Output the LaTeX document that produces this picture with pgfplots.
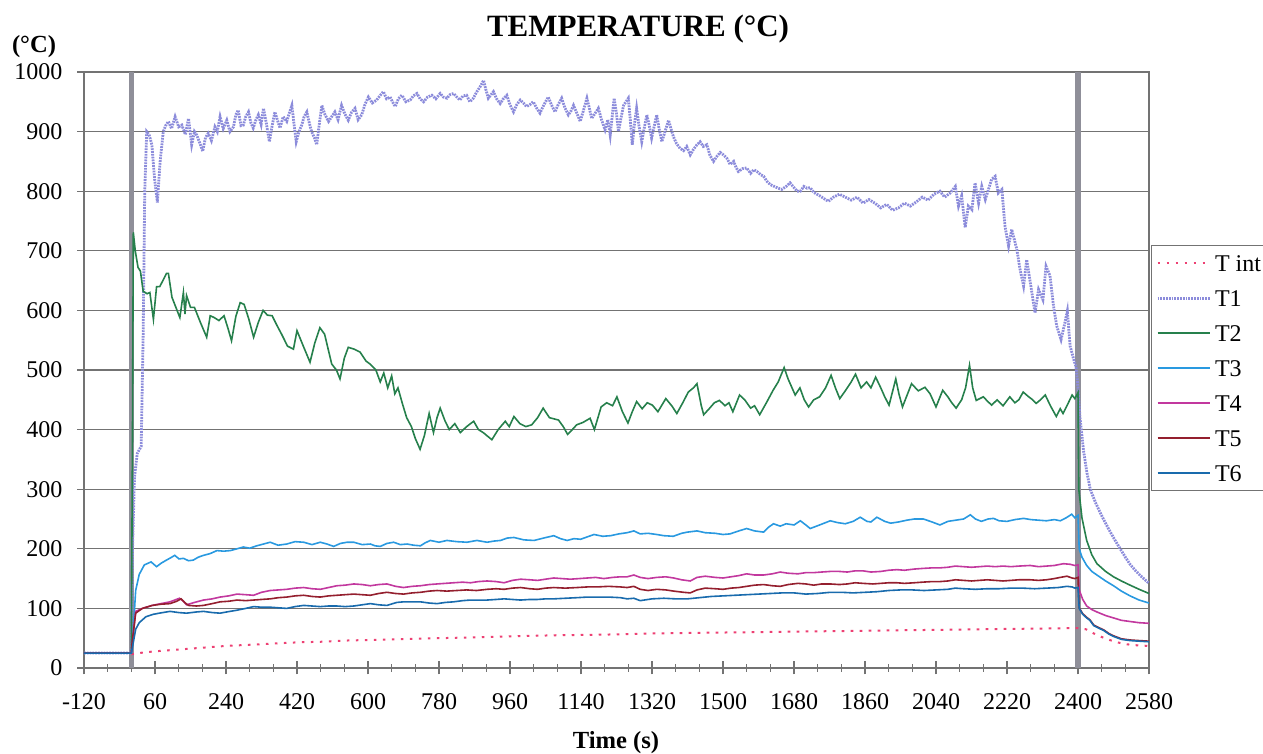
\documentclass[border=0pt]{standalone}
\usepackage{fontspec}
\setmainfont{Liberation Serif}
\usepackage{pgfplots}
\pgfplotsset{compat=1.18}
\definecolor{cTint}{rgb}{0.93,0.25,0.45}
\definecolor{cT1}{rgb}{0.55,0.55,0.86}
\definecolor{cT2}{rgb}{0.15,0.50,0.30}
\definecolor{cT3}{rgb}{0.16,0.60,0.88}
\definecolor{cT4}{rgb}{0.76,0.22,0.62}
\definecolor{cT5}{rgb}{0.58,0.12,0.18}
\definecolor{cT6}{rgb}{0.10,0.42,0.68}
\definecolor{cBar}{rgb}{0.56,0.56,0.60}
\definecolor{cGrid}{rgb}{0.45,0.45,0.45}
\begin{document}
\begin{tikzpicture}
\useasboundingbox (-42pt,-43pt) rectangle (589.5pt,334pt);
\begin{axis}[
  at={(0,0)}, anchor=south west, scale only axis,
  width=532.5pt, height=298pt,
  xmin=-120, xmax=2580, ymin=0, ymax=1000,
  xtick={-120,60,...,2580}, minor xtick={-120,-60,...,2580},
  ytick={0,100,...,1000},
  tick pos=left, tick align=center,
  major tick length=6.5pt, minor tick length=4pt,
  tick style={cGrid, line width=0.6pt},
  ymajorgrids, major grid style={cGrid, line width=0.6pt},
  axis line style={cGrid, line width=0.6pt},
  tick label style={font=\fontsize{12}{12}\selectfont},
  /pgf/number format/assume math mode=true,
  /pgf/number format/1000 sep={},
  xticklabel style={yshift=-6pt},
  yticklabel style={xshift=-4pt},
  legend style={at={(1.0015,0.7097)}, anchor=north west, draw=cGrid, line width=0.6pt,
    fill=white, font=\fontsize{12}{12}\selectfont, row sep=5pt, inner sep=2.5pt,
    nodes={inner sep=2pt, text height=8.5pt, text depth=0pt}, cells={anchor=west}},
  legend image code/.code={\draw[#1] (0pt,0pt) -- (26pt,0pt);},
]
\addplot[forget plot, cBar, line width=2.6pt] coordinates {(0,0) (0,1000)};
\addplot[forget plot, cBar, line width=2.6pt] coordinates {(2400,0) (2400,1000)};

% T int
\addplot[cTint, line width=1pt, dash pattern=on 1.3pt off 3.2pt] table[row sep=\\] {
t T\\ 0 23\\ 30 26\\ 60 28\\ 120 31\\ 180 34\\ 240 37\\ 300 39\\ 360 41\\ 420 43\\ 480 44\\ 540 46\\ 600 47\\
720 49\\ 840 51\\ 960 53\\ 1080 55\\ 1200 56\\ 1320 58\\ 1440 59\\ 1560 60\\ 1680 61\\ 1800 62\\ 1920 63\\
2040 64\\ 2160 65\\ 2280 66\\ 2400 67\\ 2420 65\\ 2440 58\\ 2460 52\\ 2480 47\\ 2500 43\\ 2520 40\\ 2550 38\\ 2580 37\\
};
\addlegendentry{T int}

% T1
\addplot[cT1, line width=1.4pt, dash pattern=on 0.9pt off 0.5pt] table[row sep=\\] {
t T\\ -120 25\\ 0 25\\ 3 200\\ 8 320\\ 15 360\\ 25 372\\ 30 560\\ 34 800\\ 39 900\\ 45 895\\ 52 878\\ 59 820\\ 66 781\\
73 850\\ 81 900\\ 87 910\\ 94 917\\ 102 905\\ 111 925\\ 120 908\\ 128 911\\ 137 895\\ 145 922\\ 153 878\\ 160 900\\
166 894\\ 174 880\\ 181 867\\ 188 890\\ 195 897\\ 203 885\\ 212 908\\ 218 900\\ 225 925\\ 233 905\\ 242 919\\ 250 900\\
259 908\\ 265 928\\ 271 936\\ 278 910\\ 284 911\\ 290 925\\ 297 933\\ 303 915\\ 309 906\\ 316 920\\ 322 928\\ 329 912\\
335 939\\ 342 915\\ 350 883\\ 357 910\\ 364 933\\ 370 920\\ 377 906\\ 385 925\\ 394 917\\ 400 930\\ 407 944\\ 412 915\\
418 883\\ 425 900\\ 432 911\\ 438 925\\ 445 933\\ 451 915\\ 457 900\\ 464 890\\ 470 878\\ 476 910\\ 483 944\\ 490 930\\
500 917\\ 508 925\\ 516 933\\ 524 920\\ 533 944\\ 541 930\\ 550 919\\ 558 932\\ 567 939\\ 575 920\\ 584 928\\ 592 945\\
601 958\\ 611 948\\ 622 953\\ 630 960\\ 639 967\\ 647 955\\ 656 958\\ 662 950\\ 669 942\\ 677 955\\ 686 961\\ 696 950\\
707 953\\ 715 960\\ 724 964\\ 732 955\\ 741 950\\ 751 958\\ 762 961\\ 772 955\\ 783 964\\ 791 958\\ 800 956\\ 808 962\\
817 964\\ 825 958\\ 833 953\\ 841 960\\ 850 961\\ 858 950\\ 867 956\\ 876 967\\ 884 975\\ 893 986\\ 899 970\\ 905 956\\
912 962\\ 918 967\\ 926 955\\ 935 947\\ 943 955\\ 952 961\\ 960 945\\ 969 933\\ 977 945\\ 986 953\\ 994 948\\ 1002 942\\
1010 945\\ 1019 950\\ 1027 940\\ 1036 931\\ 1046 945\\ 1057 958\\ 1065 945\\ 1074 933\\ 1082 945\\ 1091 956\\ 1099 940\\
1108 928\\ 1115 935\\ 1121 944\\ 1130 930\\ 1138 917\\ 1146 935\\ 1155 956\\ 1161 940\\ 1167 922\\ 1175 930\\ 1184 939\\
1192 920\\ 1201 903\\ 1208 920\\ 1214 894\\ 1219 925\\ 1224 956\\ 1230 930\\ 1235 900\\ 1242 925\\ 1248 944\\ 1254 950\\
1260 956\\ 1265 920\\ 1270 878\\ 1275 910\\ 1281 939\\ 1287 910\\ 1294 883\\ 1300 905\\ 1307 928\\ 1313 910\\ 1319 889\\
1326 910\\ 1332 928\\ 1338 905\\ 1345 883\\ 1353 900\\ 1362 919\\ 1368 905\\ 1374 892\\ 1382 880\\ 1391 872\\ 1400 868\\
1408 875\\ 1417 861\\ 1425 870\\ 1434 878\\ 1442 883\\ 1450 875\\ 1459 878\\ 1467 860\\ 1476 850\\ 1484 858\\ 1493 865\\
1501 861\\ 1510 855\\ 1518 845\\ 1527 850\\ 1533 840\\ 1539 833\\ 1550 838\\ 1560 839\\ 1570 830\\ 1578 836\\ 1586 833\\
1595 828\\ 1603 825\\ 1612 816\\ 1620 811\\ 1630 808\\ 1640 805\\ 1649 803\\ 1660 808\\ 1670 814\\ 1680 806\\ 1688 800\\
1696 800\\ 1705 808\\ 1713 805\\ 1721 806\\ 1730 798\\ 1738 795\\ 1746 792\\ 1755 788\\ 1767 783\\ 1780 790\\ 1795 795\\
1810 790\\ 1825 785\\ 1840 790\\ 1855 780\\ 1870 786\\ 1885 780\\ 1900 772\\ 1915 778\\ 1930 768\\ 1945 772\\ 1960 780\\
1975 775\\ 1990 782\\ 2005 790\\ 2020 785\\ 2035 795\\ 2050 800\\ 2062 790\\ 2076 797\\ 2089 808\\ 2097 775\\ 2105 792\\
2114 739\\ 2122 775\\ 2131 769\\ 2139 814\\ 2148 780\\ 2156 808\\ 2165 786\\ 2173 803\\ 2181 820\\ 2190 825\\ 2198 797\\
2207 803\\ 2215 741\\ 2224 708\\ 2232 736\\ 2245 702\\ 2253 669\\ 2262 641\\ 2270 685\\ 2283 630\\ 2291 596\\ 2300 635\\
2311 618\\ 2319 674\\ 2329 658\\ 2338 607\\ 2346 574\\ 2357 551\\ 2365 574\\ 2373 599\\ 2380 540\\ 2389 518\\ 2395 505\\
2400 470\\ 2405 420\\ 2414 365\\ 2422 330\\ 2431 300\\ 2444 278\\ 2456 261\\ 2469 244\\ 2482 228\\ 2495 213\\ 2507 200\\
2520 186\\ 2532 174\\ 2545 164\\ 2558 155\\ 2570 148\\ 2580 142\\
};
\addlegendentry{T1}

% T2
\addplot[cT2, line width=0.8pt] table[row sep=\\] {
t T\\ -120 25\\ 0 25\\ 3 400\\ 5 731\\ 10 700\\ 17 672\\ 23 666\\ 30 632\\ 40 628\\ 47 630\\ 56 585\\ 64 640\\ 72 640\\
80 650\\ 89 662\\ 94 662\\ 103 622\\ 113 605\\ 123 588\\ 132 630\\ 136 594\\ 140 625\\ 150 605\\ 160 605\\ 175 580\\
191 555\\ 200 591\\ 210 588\\ 222 583\\ 235 591\\ 245 570\\ 254 549\\ 265 590\\ 276 613\\ 286 610\\ 298 585\\ 310 555\\
322 580\\ 334 600\\ 345 592\\ 357 591\\ 369 575\\ 381 560\\ 396 540\\ 411 535\\ 420 566\\ 436 540\\ 453 513\\ 465 545\\
478 571\\ 490 560\\ 508 510\\ 520 500\\ 529 485\\ 540 520\\ 550 538\\ 565 535\\ 580 530\\ 595 515\\ 605 510\\ 620 500\\
631 480\\ 640 495\\ 650 470\\ 660 490\\ 668 460\\ 676 470\\ 687 444\\ 698 420\\ 710 405\\ 720 385\\ 732 367\\ 743 390\\
755 427\\ 766 395\\ 775 420\\ 783 436\\ 795 415\\ 806 400\\ 820 410\\ 834 395\\ 850 405\\ 868 414\\ 880 400\\ 892 395\\
914 383\\ 930 400\\ 948 414\\ 958 405\\ 970 422\\ 985 410\\ 1000 405\\ 1015 408\\ 1030 420\\ 1044 436\\ 1060 420\\
1083 416\\ 1095 405\\ 1106 392\\ 1118 400\\ 1129 408\\ 1145 412\\ 1163 419\\ 1174 400\\ 1191 438\\ 1205 445\\ 1220 440\\
1231 455\\ 1245 430\\ 1259 411\\ 1270 430\\ 1281 447\\ 1295 435\\ 1308 445\\ 1321 441\\ 1335 430\\ 1355 452\\ 1370 440\\
1383 427\\ 1398 445\\ 1412 463\\ 1425 470\\ 1434 477\\ 1445 440\\ 1451 425\\ 1465 435\\ 1478 445\\ 1491 449\\ 1505 440\\
1515 445\\ 1525 430\\ 1542 458\\ 1555 450\\ 1570 436\\ 1580 440\\ 1593 425\\ 1610 445\\ 1627 466\\ 1640 480\\ 1655 504\\
1665 485\\ 1675 470\\ 1683 458\\ 1695 470\\ 1706 450\\ 1717 438\\ 1730 450\\ 1745 455\\ 1760 470\\ 1774 491\\ 1785 470\\
1796 452\\ 1810 465\\ 1825 480\\ 1836 493\\ 1850 470\\ 1864 480\\ 1875 470\\ 1887 488\\ 1900 470\\ 1910 455\\ 1921 441\\
1938 485\\ 1946 460\\ 1955 438\\ 1965 455\\ 1978 477\\ 1995 465\\ 2012 471\\ 2025 460\\ 2040 438\\ 2057 466\\ 2070 455\\
2080 445\\ 2091 436\\ 2105 450\\ 2115 470\\ 2125 508\\ 2133 470\\ 2142 449\\ 2160 455\\ 2170 448\\ 2181 441\\ 2195 450\\
2210 440\\ 2227 455\\ 2240 445\\ 2250 450\\ 2261 463\\ 2275 455\\ 2285 450\\ 2294 444\\ 2305 450\\ 2317 458\\ 2330 440\\
2345 422\\ 2355 435\\ 2362 427\\ 2372 440\\ 2385 458\\ 2392 452\\ 2400 462\\ 2402 300\\ 2410 252\\ 2422 214\\ 2435 190\\
2448 175\\ 2470 162\\ 2490 153\\ 2510 146\\ 2532 139\\ 2555 132\\ 2580 125\\
};
\addlegendentry{T2}

% T3
\addplot[cT3, line width=0.8pt] table[row sep=\\] {
t T\\ -120 25\\ 0 25\\ 2 32\\ 11 130\\ 20 157\\ 33 173\\ 50 178\\ 64 170\\ 76 176\\ 89 181\\ 100 185\\ 110 189\\ 121 183\\
132 184\\ 145 180\\ 157 181\\ 170 186\\ 183 189\\ 200 192\\ 217 197\\ 234 196\\ 251 197\\ 268 200\\ 284 203\\ 300 201\\
318 205\\ 335 208\\ 352 211\\ 372 206\\ 394 208\\ 415 212\\ 437 211\\ 458 207\\ 479 211\\ 496 208\\ 513 204\\ 530 209\\
547 211\\ 564 211\\ 585 207\\ 606 208\\ 618 205\\ 631 204\\ 648 209\\ 665 211\\ 682 207\\ 699 208\\ 716 206\\ 733 205\\
745 210\\ 758 214\\ 780 211\\ 800 214\\ 825 212\\ 851 211\\ 876 214\\ 902 211\\ 920 213\\ 936 214\\ 953 218\\ 970 219\\
995 215\\ 1021 214\\ 1045 218\\ 1071 222\\ 1088 217\\ 1105 214\\ 1122 217\\ 1139 216\\ 1156 220\\ 1173 224\\ 1195 221\\
1215 222\\ 1236 225\\ 1257 227\\ 1274 230\\ 1290 225\\ 1310 226\\ 1332 224\\ 1350 222\\ 1374 221\\ 1395 226\\ 1410 228\\
1434 230\\ 1455 227\\ 1480 226\\ 1500 224\\ 1518 225\\ 1540 230\\ 1560 234\\ 1580 230\\ 1603 228\\ 1615 236\\ 1628 242\\
1645 238\\ 1660 242\\ 1680 240\\ 1696 247\\ 1710 240\\ 1721 234\\ 1745 240\\ 1772 247\\ 1790 244\\ 1810 242\\ 1830 246\\
1848 253\\ 1865 246\\ 1875 245\\ 1890 253\\ 1910 246\\ 1925 243\\ 1945 245\\ 1966 248\\ 1985 250\\ 2008 250\\ 2030 245\\
2050 240\\ 2070 246\\ 2090 248\\ 2110 250\\ 2127 257\\ 2140 250\\ 2155 246\\ 2172 250\\ 2186 251\\ 2200 247\\ 2220 246\\
2240 249\\ 2262 251\\ 2280 249\\ 2300 248\\ 2320 247\\ 2340 249\\ 2355 247\\ 2370 252\\ 2384 258\\ 2392 252\\ 2400 256\\
2403 200\\ 2410 186\\ 2422 172\\ 2435 162\\ 2448 156\\ 2470 146\\ 2490 138\\ 2510 129\\ 2532 121\\ 2555 114\\ 2580 109\\
};
\addlegendentry{T3}

% T4
\addplot[cT4, line width=0.8pt] table[row sep=\\] {
t T\\ -120 25\\ 0 25\\ 2 38\\ 11 95\\ 28 100\\ 53 105\\ 75 108\\ 98 111\\ 110 114\\ 122 117\\ 132 112\\ 140 106\\ 160 110\\
183 114\\ 205 116\\ 225 119\\ 247 121\\ 268 124\\ 290 123\\ 310 122\\ 330 127\\ 352 130\\ 373 131\\ 394 132\\ 415 134\\
437 135\\ 458 133\\ 479 132\\ 500 135\\ 521 138\\ 542 139\\ 564 141\\ 585 140\\ 606 138\\ 627 140\\ 648 141\\ 670 137\\
690 135\\ 712 137\\ 733 138\\ 755 140\\ 775 141\\ 796 142\\ 817 143\\ 840 144\\ 860 143\\ 880 145\\ 902 146\\ 925 145\\
945 143\\ 966 147\\ 987 149\\ 1010 148\\ 1030 147\\ 1050 149\\ 1071 151\\ 1092 150\\ 1113 149\\ 1135 150\\ 1156 151\\
1177 152\\ 1198 150\\ 1220 152\\ 1240 153\\ 1257 153\\ 1274 156\\ 1290 152\\ 1310 150\\ 1332 152\\ 1355 153\\ 1375 151\\
1395 148\\ 1417 146\\ 1434 152\\ 1455 154\\ 1480 152\\ 1500 151\\ 1520 153\\ 1540 155\\ 1560 158\\ 1580 156\\ 1603 156\\
1625 158\\ 1645 161\\ 1665 159\\ 1690 158\\ 1710 160\\ 1730 160\\ 1750 161\\ 1772 162\\ 1795 162\\ 1815 161\\ 1835 163\\
1855 163\\ 1875 161\\ 1900 162\\ 1920 164\\ 1941 165\\ 1960 164\\ 1985 166\\ 2005 167\\ 2030 168\\ 2050 168\\ 2070 169\\
2089 171\\ 2110 170\\ 2130 169\\ 2150 170\\ 2170 171\\ 2190 170\\ 2210 171\\ 2230 170\\ 2250 171\\ 2279 172\\ 2300 170\\
2320 171\\ 2340 172\\ 2363 175\\ 2380 174\\ 2392 172\\ 2400 173\\ 2403 131\\ 2412 115\\ 2422 104\\ 2435 98\\ 2448 94\\
2470 88\\ 2490 84\\ 2510 80\\ 2532 78\\ 2555 76\\ 2580 75\\
};
\addlegendentry{T4}

% T5
\addplot[cT5, line width=0.8pt] table[row sep=\\] {
t T\\ -120 25\\ 0 25\\ 2 43\\ 11 92\\ 28 100\\ 53 105\\ 75 107\\ 98 108\\ 115 112\\ 126 116\\ 135 110\\ 145 105\\ 165 104\\
183 105\\ 205 108\\ 225 111\\ 247 112\\ 268 114\\ 290 113\\ 310 114\\ 330 115\\ 352 116\\ 373 118\\ 394 119\\ 415 121\\
437 122\\ 458 120\\ 479 119\\ 500 121\\ 521 122\\ 542 123\\ 564 124\\ 585 123\\ 606 122\\ 627 125\\ 648 127\\ 670 125\\
690 124\\ 712 126\\ 733 127\\ 755 129\\ 775 130\\ 800 129\\ 825 130\\ 850 131\\ 875 130\\ 902 132\\ 925 133\\ 945 132\\
966 134\\ 987 135\\ 1010 133\\ 1030 132\\ 1050 134\\ 1071 135\\ 1100 134\\ 1130 135\\ 1156 136\\ 1180 136\\ 1210 137\\
1240 136\\ 1257 135\\ 1274 137\\ 1290 132\\ 1310 130\\ 1332 132\\ 1355 131\\ 1375 129\\ 1400 127\\ 1417 126\\ 1434 131\\
1455 134\\ 1480 133\\ 1500 132\\ 1520 134\\ 1540 135\\ 1560 137\\ 1580 139\\ 1603 140\\ 1625 138\\ 1645 137\\ 1665 140\\
1690 142\\ 1710 141\\ 1730 139\\ 1750 141\\ 1772 141\\ 1795 140\\ 1815 141\\ 1835 143\\ 1855 142\\ 1880 141\\ 1900 142\\
1920 143\\ 1941 143\\ 1960 142\\ 1985 143\\ 2005 144\\ 2030 145\\ 2050 145\\ 2070 146\\ 2089 148\\ 2110 147\\ 2130 146\\
2150 147\\ 2170 148\\ 2190 147\\ 2210 146\\ 2230 147\\ 2250 148\\ 2279 148\\ 2300 147\\ 2320 148\\ 2340 150\\ 2355 152\\
2372 154\\ 2385 151\\ 2392 150\\ 2400 152\\ 2403 101\\ 2412 91\\ 2422 85\\ 2430 81\\ 2440 72\\ 2452 68\\ 2465 64\\
2478 58\\ 2490 54\\ 2510 49\\ 2532 47\\ 2555 46\\ 2580 45\\
};
\addlegendentry{T5}

% T6
\addplot[cT6, line width=0.8pt] table[row sep=\\] {
t T\\ -120 25\\ 0 25\\ 2 32\\ 11 65\\ 20 76\\ 37 86\\ 55 90\\ 71 92\\ 98 95\\ 120 93\\ 140 92\\ 165 94\\ 183 95\\ 205 93\\
225 92\\ 250 95\\ 268 97\\ 290 100\\ 310 103\\ 330 102\\ 352 102\\ 373 101\\ 394 100\\ 415 103\\ 437 105\\ 458 104\\
479 103\\ 500 104\\ 521 104\\ 542 103\\ 564 104\\ 585 106\\ 606 108\\ 627 106\\ 648 105\\ 673 110\\ 690 111\\ 712 111\\
733 111\\ 755 109\\ 775 108\\ 796 110\\ 817 111\\ 840 113\\ 860 114\\ 880 114\\ 902 114\\ 925 115\\ 945 116\\ 966 115\\
987 114\\ 1010 115\\ 1030 115\\ 1050 116\\ 1071 116\\ 1100 117\\ 1130 118\\ 1156 119\\ 1180 119\\ 1210 119\\ 1240 118\\
1257 116\\ 1274 117\\ 1290 113\\ 1320 116\\ 1350 117\\ 1380 116\\ 1410 116\\ 1440 118\\ 1470 120\\ 1500 121\\ 1530 122\\
1560 123\\ 1590 124\\ 1620 125\\ 1650 126\\ 1680 126\\ 1710 124\\ 1740 125\\ 1772 127\\ 1800 127\\ 1830 126\\ 1860 127\\
1890 128\\ 1920 130\\ 1950 131\\ 1980 131\\ 2010 130\\ 2040 131\\ 2070 132\\ 2089 134\\ 2110 133\\ 2140 132\\ 2170 133\\
2200 133\\ 2230 134\\ 2260 134\\ 2290 133\\ 2320 134\\ 2350 135\\ 2372 137\\ 2385 136\\ 2392 134\\ 2400 135\\ 2403 100\\
2412 90\\ 2422 84\\ 2430 80\\ 2440 71\\ 2452 67\\ 2465 63\\ 2478 57\\ 2490 53\\ 2510 48\\ 2532 46\\ 2555 45\\ 2580 44\\
};
\addlegendentry{T6}
\end{axis}
\node[font=\bfseries\fontsize{15.5}{15.5}\selectfont, anchor=base] at (277pt,315.5pt) {TEMPERATURE (°C)};
\node[font=\bfseries\fontsize{12.3}{12.3}\selectfont, anchor=base] at (-25pt,307.5pt) {(°C)};
\node[font=\bfseries\fontsize{12.3}{12.3}\selectfont, anchor=base] at (266pt,-40.5pt) {Time (s)};
\end{tikzpicture}
\end{document}
